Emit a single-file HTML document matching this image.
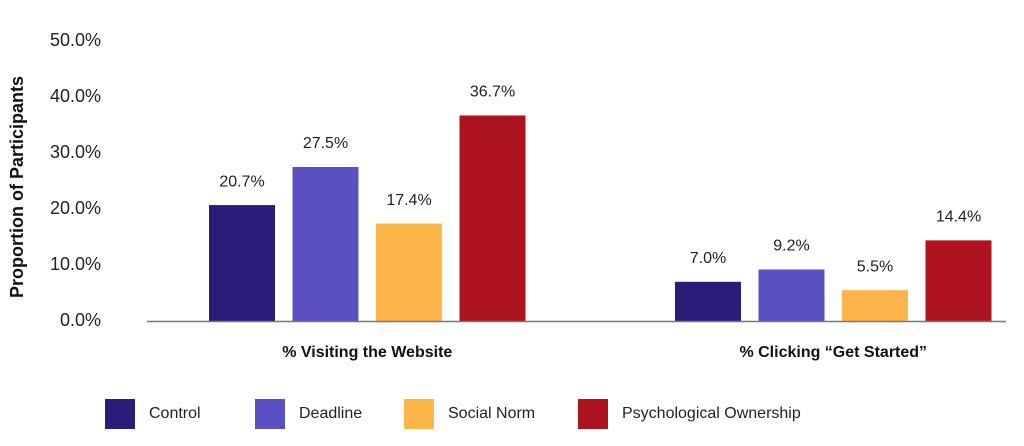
<!DOCTYPE html>
<html><head><meta charset="utf-8"><style>
body{margin:0;background:#fff;}
svg{display:block;font-family:"Liberation Sans",sans-serif;}
</style></head><body>
<svg id="chart" width="1024" height="446">
<g id="bars"></g>
<text x="18" y="187" transform="rotate(-90 18 187)" text-anchor="middle" dominant-baseline="middle" font-size="18" font-weight="bold" fill="#111">Proportion of Participants</text>
</svg>
<script>
const categories = ["% Visiting the Website", "% Clicking \u201cGet Started\u201d"];
const seriesNames = ["Control", "Deadline", "Social Norm", "Psychological Ownership"];
const control = [20.7, 7.0];
const deadline = [27.5, 9.2];
const socialNorm = [17.4, 5.5];
const psychOwnership = [36.7, 14.4];
const yTicks = [0, 10, 20, 30, 40, 50];
const colors = ["#2c1b78", "#5a50c2", "#fdb54a", "#ae1320"];
const series = [control, deadline, socialNorm, psychOwnership];

const svg = document.getElementById('chart');
const NS = 'http://www.w3.org/2000/svg';
const y0 = 321, pxPer = 5.6;
const y = v => y0 - v * pxPer;
const groupStart = [209, 675], step = 83.5, bw = 66;
const x = (g, s) => groupStart[g] + s * step;
function mk(tag, attrs){const e=document.createElementNS(NS,tag);for(const k in attrs)e.setAttribute(k,attrs[k]);svg.appendChild(e);return e;}

yTicks.forEach(t=>{
  const e = mk('text',{x:101,y:y(t),'text-anchor':'end','dominant-baseline':'middle','font-size':18,fill:'#222'});
  e.textContent = t.toFixed(1)+'%';
  
  
});

series.forEach((vals,s)=>{
  vals.forEach((v,g)=>{
    const r = mk('rect',{x:x(g,s),y:y(v),width:bw,height:v*pxPer,fill:colors[s]});
    
    
    const t = mk('text',{x:x(g,s)+bw/2,y:y(v)-23,'text-anchor':'middle','dominant-baseline':'middle','font-size':16,fill:'#222'});
    t.textContent = v.toFixed(1)+'%';
    
    
  });
});

const axis = mk('line',{x1:147,x2:1006,y1:y0+0.5,y2:y0+0.5,stroke:'#777','stroke-width':1.5});



categories.forEach((c,g)=>{
  const t = mk('text',{x:x(g,0)+(3*step+bw)/2,y:353,'text-anchor':'middle','dominant-baseline':'middle','font-size':16,'font-weight':'bold',fill:'#111'});
  t.textContent = c;
  
  
});

const legX = [105, 255, 404, 578];
seriesNames.forEach((n,s)=>{
  const r = mk('rect',{x:legX[s],y:399,width:30,height:30,fill:colors[s]});
  
  
  const t = mk('text',{x:legX[s]+44,y:414,'dominant-baseline':'middle','font-size':16,fill:'#222'});
  t.textContent = n;
  
  
});
</script>
</body></html>
